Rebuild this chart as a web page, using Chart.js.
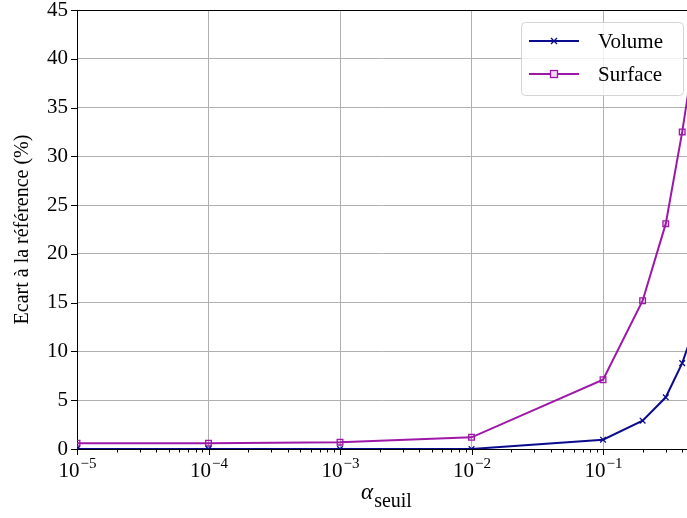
<!DOCTYPE html>
<html>
<head>
<meta charset="utf-8">
<script src="https://cdn.jsdelivr.net/npm/chart.js@4.4.1/dist/chart.umd.min.js"></script>
<style>
  html, body { margin: 0; padding: 0; background: #fff; }
  #wrap { width: 687px; height: 518px; }
</style>
</head>
<body>
<div id="wrap"><canvas id="chart" width="687" height="518"></canvas></div>
<script>
// Data
const alphaValues = [1e-5, 1e-4, 1e-3, 1e-2, 0.1, 0.2, 0.3, 0.4, 0.5];
const volumeValues = [0, 0, 0, 0, 0.95, 2.9, 5.3, 8.8, 12.6];
const surfaceValues = [0.6, 0.6, 0.7, 1.2, 7.1, 15.2, 23.1, 32.5, 41.0];
const seriesNames = ['Volume', 'Surface'];
const yTicks = [0, 5, 10, 15, 20, 25, 30, 35, 40, 45];
const xMajorTicks = [1e-5, 1e-4, 1e-3, 1e-2, 1e-1];
const xTitle = ['\u03b1', 'seuil'];
const yTitle = 'Ecart \u00e0 la r\u00e9f\u00e9rence (%)';

const FONT = '"Liberation Serif", "DejaVu Serif", serif';

function isMajor(v) {
    const e = Math.log10(v);
    return Math.abs(e - Math.round(e)) < 1e-9;
}

// Build all ticks (majors + minors) for the log axis
function buildLogTicks(min, max) {
    const out = [];
    for (let e = -5; e <= 0; e++) {
        for (let k = 1; k <= 9; k++) {
            const v = k * Math.pow(10, e);
            if (v >= min * 0.999 && v <= max) out.push({ value: v });
        }
    }
    return out;
}

// tick marks (outward), x tick labels with exponents, top spine, axis titles, legend
const decorPlugin = {
    id: 'decor',
    afterDraw(chart) {
        const ctx = chart.ctx;
        const area = chart.chartArea;
        const xs = chart.scales.x;
        const ys = chart.scales.y;
        ctx.save();
        ctx.strokeStyle = '#000';
        ctx.lineWidth = 1;

        // top spine
        ctx.beginPath();
        ctx.moveTo(area.left, area.top + 0.5);
        ctx.lineTo(area.right, area.top + 0.5);
        ctx.stroke();

        // x ticks
        xs.ticks.forEach(t => {
            const px = Math.round(xs.getPixelForValue(t.value)) + 0.5;
            const len = isMajor(t.value) ? 6 : 3.5;
            ctx.beginPath();
            ctx.moveTo(px, area.bottom);
            ctx.lineTo(px, area.bottom + len);
            ctx.stroke();
        });
        // y ticks
        ys.ticks.forEach(t => {
            const py = Math.round(ys.getPixelForValue(t.value)) + 0.5;
            ctx.beginPath();
            ctx.moveTo(area.left, py);
            ctx.lineTo(area.left - 6, py);
            ctx.stroke();
        });

        // x tick labels: 10 with raised exponent
        ctx.fillStyle = '#000';
        ctx.textBaseline = 'alphabetic';
        ctx.textAlign = 'left';
        xMajorTicks.forEach(v => {
            const px = xs.getPixelForValue(v);
            const base = '10';
            const exp = '\u2212' + String(-Math.round(Math.log10(v)));
            ctx.font = '21px ' + FONT;
            const wb = ctx.measureText(base).width;
            ctx.font = '15px ' + FONT;
            const we = ctx.measureText(exp).width;
            const sx = px - (wb + we) / 2;
            ctx.font = '21px ' + FONT;
            ctx.fillText(base, sx, area.bottom + 28);
            ctx.font = '15px ' + FONT;
            ctx.fillText(exp, sx + wb + 1, area.bottom + 19);
        });

        // x title with subscript
        ctx.font = 'italic 23px ' + FONT;
        const w1 = ctx.measureText(xTitle[0]).width;
        ctx.font = '20px ' + FONT;
        const w2 = ctx.measureText(xTitle[1]).width;
        const cx = (area.left + area.right) / 2 + 4;
        const sx = cx - (w1 + w2) / 2;
        ctx.font = 'italic 23px ' + FONT;
        ctx.fillText(xTitle[0], sx, 499);
        ctx.font = '20px ' + FONT;
        ctx.fillText(xTitle[1], sx + w1 + 1, 507);

        // y title
        ctx.save();
        ctx.translate(28, (area.top + area.bottom) / 2);
        ctx.rotate(-Math.PI / 2);
        ctx.textAlign = 'center';
        ctx.font = '20px ' + FONT;
        ctx.fillText(yTitle, 0, 0);
        ctx.restore();

        // legend box
        const lx = 521, ly = 22, lw = 162, lh = 73;
        ctx.beginPath();
        ctx.roundRect(lx + 0.5, ly + 0.5, lw, lh, 4);
        ctx.fillStyle = 'rgba(255,255,255,0.8)';
        ctx.fill();
        ctx.strokeStyle = '#d4d4d4';
        ctx.lineWidth = 1;
        ctx.stroke();

        chart.data.datasets.forEach((ds, i) => {
            const y = ly + 19 + i * 33;
            ctx.strokeStyle = ds.borderColor;
            ctx.lineWidth = 2;
            ctx.beginPath();
            ctx.moveTo(lx + 8, y);
            ctx.lineTo(lx + 58, y);
            ctx.stroke();
            ctx.lineWidth = 1.3;
            const mx = lx + 33;
            if (ds.pointStyle === 'crossRot') {
                ctx.beginPath();
                ctx.moveTo(mx - 3, y - 3); ctx.lineTo(mx + 3, y + 3);
                ctx.moveTo(mx - 3, y + 3); ctx.lineTo(mx + 3, y - 3);
                ctx.stroke();
            } else {
                ctx.fillStyle = '#f3d9f5';
                ctx.fillRect(mx - 3.5, y - 3.5, 7, 7);
                ctx.strokeRect(mx - 3.5, y - 3.5, 7, 7);
            }
            ctx.fillStyle = '#000';
            ctx.font = '21px ' + FONT;
            ctx.textBaseline = 'middle';
            ctx.textAlign = 'left';
            ctx.fillText(ds.label, lx + 77, y + 1);
        });
        ctx.restore();
    }
};

const makePoints = vals => alphaValues.map((a, i) => ({ x: a, y: vals[i] }));

new Chart(document.getElementById('chart'), {
    type: 'line',
    data: {
        datasets: [{
            label: seriesNames[0],
            data: makePoints(volumeValues),
            borderColor: '#0b0b8f',
            backgroundColor: '#0b0b8f',
            borderWidth: 2,
            pointStyle: 'crossRot',
            pointRadius: 4,
            pointBorderWidth: 1.3,
            tension: 0
        }, {
            label: seriesNames[1],
            data: makePoints(surfaceValues),
            borderColor: '#9d18a8',
            backgroundColor: 'rgba(157,24,168,0.12)',
            borderWidth: 2,
            pointStyle: 'rect',
            pointRadius: 4,
            pointBorderWidth: 1.3,
            tension: 0
        }]
    },
    options: {
        responsive: false,
        animation: false,
        layout: { autoPadding: false, padding: { left: 0, right: 0, top: 0, bottom: 0 } },
        plugins: {
            legend: { display: false },
            tooltip: { enabled: false }
        },
        scales: {
            x: {
                type: 'logarithmic',
                min: 1e-5,
                max: 0.435,
                afterBuildTicks: scale => { scale.ticks = buildLogTicks(scale.min, scale.max); },
                afterFit: scale => { scale.height = 69; scale.paddingLeft = 0; scale.paddingRight = 0; },
                grid: {
                    drawTicks: false,
                    color: ctx => (ctx.tick && isMajor(ctx.tick.value)) ? '#b0b0b0' : 'rgba(0,0,0,0)',
                    lineWidth: 1
                },
                border: { color: '#000', width: 1 },
                ticks: {
                    autoSkip: false,
                    maxRotation: 0,
                    callback: () => ''
                }
            },
            y: {
                min: 0,
                max: 45,
                afterBuildTicks: scale => { scale.ticks = yTicks.map(v => ({ value: v })); },
                afterFit: scale => { scale.width = 77; scale.paddingTop = 10; scale.paddingBottom = 0; },
                grid: { drawTicks: false, color: '#b0b0b0', lineWidth: 1 },
                border: { color: '#000', width: 1 },
                ticks: {
                    padding: 9,
                    color: '#000',
                    font: { family: FONT, size: 21 }
                }
            }
        }
    },
    plugins: [decorPlugin]
});
</script>
</body>
</html>
